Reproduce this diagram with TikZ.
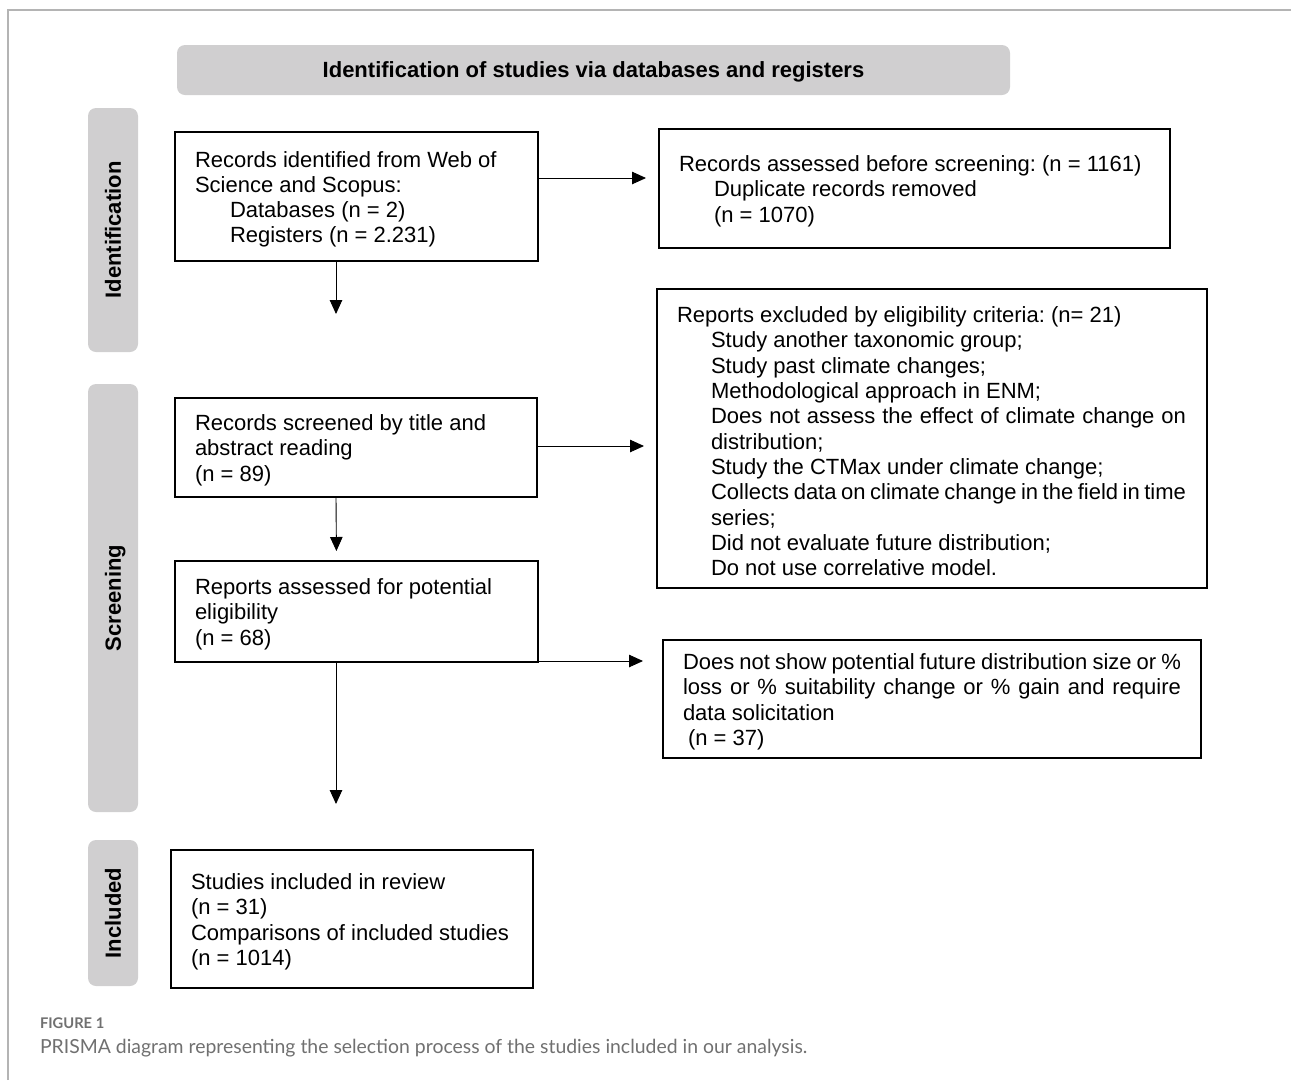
\documentclass[tikz,border=0pt]{standalone}
\usepackage{fontspec}
\setmainfont{Liberation Sans}
\newfontfamily\captionfont{Lato}
\usetikzlibrary{arrows.meta}
\definecolor{phasefillcolor}{HTML}{D0CFD0}
\definecolor{framecolor}{HTML}{B4B4B4}
\definecolor{captioncolor}{HTML}{707070}
\frenchspacing
% a line set out to a given width, as in justified text
\newcommand{\justline}[2]{\makebox[#1][s]{\spaceskip=0pt\relax#2}}

\begin{document}
\begin{tikzpicture}[
	x=1pt, y=-1pt,
	flowbox/.style={rectangle, draw, line width=1.6pt, inner xsep=0pt, inner ysep=0pt, align=flush left,
		execute at begin node={\rule{0pt}{21.5pt}}},
	phase/.style={rectangle, rounded corners=8pt, fill=phasefillcolor, inner sep=0pt,
		text height=15.5pt, text depth=0pt, font=\fontsize{22}{26}\selectfont\bfseries},
	arrow/.style={line width=0.9pt, -{Triangle[length=14pt, width=12.5pt]}},
	caption/.style={anchor=west, inner sep=0pt, text=captioncolor},
	every node/.style={outer sep=0pt, font=\fontsize{22}{25.3}\selectfont},
]
\useasboundingbox (0,0) rectangle (1291,1080);
% page frame (top and left only)
\draw[framecolor, line width=1.5pt] (8,1080) -- (8,10) -- (1291,10);

% Phases
	\node[phase, minimum width=833pt, minimum height=50pt] (head) at (593.5,70)
		{Identification of studies via databases and registers};
	\node[phase, rotate=90, minimum width=244pt, minimum height=50pt] (identph) at (113,230)
		{Identification};
	\node[phase, rotate=90, minimum width=428pt, minimum height=50pt] (screenph) at (113,598)
		{Screening};
	\node[phase, rotate=90, minimum width=146pt, minimum height=50pt] (inclph) at (113,913)
		{Included};

% Boxes
	\node[flowbox, minimum width=363pt, minimum height=129pt, text width=323pt] (recid) at (356.5,196.5)
		{Records identified from Web of\\Science and Scopus:\\
		\hspace*{35pt}Databases (n = 2)\\\hspace*{35pt}Registers (n = 2.231)};
	\node[flowbox, minimum width=511pt, minimum height=119pt, text width=471pt] (dup) at (914.5,188.5)
		{Records assessed before screening: (n = 1161)\\
		\hspace*{35pt}Duplicate records removed\\\hspace*{35pt}(n = 1070)};
	\node[flowbox, minimum width=362pt, minimum height=99pt, text width=322pt] (screen) at (356,447.5)
		{Records screened by title and\\abstract reading\\(n = 89)};
	\node[flowbox, minimum width=550pt, minimum height=299pt, text width=510pt] (excl) at (932,438.5)
		{Reports excluded by eligibility criteria: (n= 21)\\
		\hspace*{34pt}Study another taxonomic group;\\
		\hspace*{34pt}Study past climate changes;\\
		\hspace*{34pt}Methodological approach in ENM;\\
		\hspace*{34pt}\justline{475pt}{Does not assess the effect of climate change on}\\
		\hspace*{34pt}distribution;\\
		\hspace*{34pt}Study the CTMax under climate change;\\
		\hspace*{34pt}\justline{475pt}{Collects data on climate change in the field in time}\\
		\hspace*{34pt}series;\\
		\hspace*{34pt}Did not evaluate future distribution;\\
		\hspace*{34pt}Do not use correlative model.};
	\node[flowbox, minimum width=363pt, minimum height=101pt, text width=323pt] (rep) at (356.5,611.5)
		{Reports assessed for potential\\eligibility\\(n = 68)};
	\node[flowbox, minimum width=538pt, minimum height=118pt, text width=498pt] (nshow) at (932,699)
		{\justline{498pt}{Does not show potential future distribution size or \%}\\
		\justline{498pt}{loss or \% suitability change or \% gain and require}\\
		data solicitation\\\hspace*{5pt}(n = 37)};
	\node[flowbox, minimum width=362pt, minimum height=138pt, text width=322pt] (incl) at (352,919)
		{Studies included in review\\(n = 31)\\Comparisons of included studies\\(n = 1014)};

% Connectors
	\coordinate (idend) at (336,314);
	\coordinate (repend) at (336,804);
	\draw[arrow, shorten >=13pt] ([yshift=18.5pt]recid.east) -- ([yshift=18.5pt]recid.east -| dup.west);
	\draw[arrow] (recid.south -| idend) -- (idend);
	\draw[arrow, shorten >=13pt] ([yshift=1.5pt]screen.east) -- ([yshift=1.5pt]screen.east -| excl.west);
	\draw[arrow, shorten >=10pt] ([xshift=-20pt]screen.south) -- ([xshift=-20pt]rep.north);
	\draw[arrow, shorten >=20pt] ([yshift=1pt]rep.south east) -- ([yshift=1pt]rep.south east -| nshow.west);
	\draw[arrow] (rep.south -| repend) -- (repend);

% Caption
	\node[caption, font=\captionfont\bfseries\fontsize{14.7}{17}\selectfont] (figlabel) at (40,1023) {FIGURE 1};
	\node[caption, font=\captionfont\fontsize{19.4}{23}\selectfont] (figtext) at (40,1048)
		{PRISMA diagram representing the selection process of the studies included in our analysis.};
\end{tikzpicture}
\end{document}
